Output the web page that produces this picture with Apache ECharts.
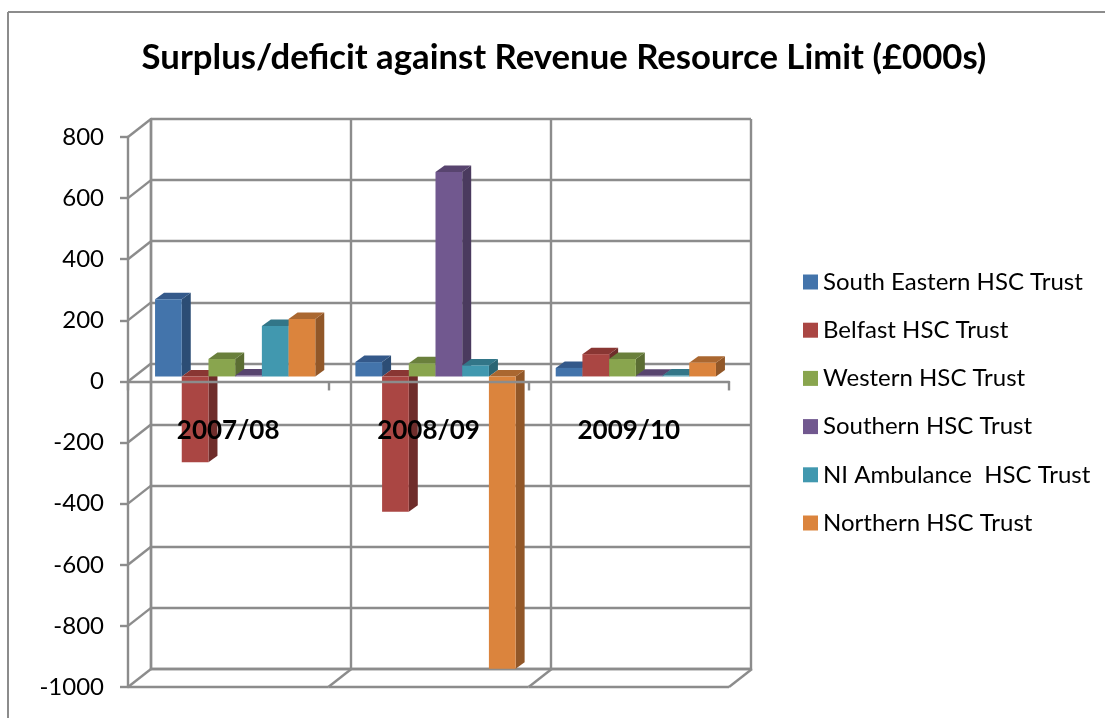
<!DOCTYPE html>
<html>
<head>
<meta charset="utf-8">
<style>
  html, body { margin: 0; padding: 0; background: #fff; overflow: hidden; }
  #chart { width: 1105px; height: 718px; }
</style>
<script src="https://cdn.jsdelivr.net/npm/echarts@6/dist/echarts.min.js"></script>
</head>
<body>
<div id="chart"></div>
<script>
var categories = ['2007/08', '2008/09', '2009/10'];
var seriesNames = ['South Eastern HSC Trust', 'Belfast HSC Trust', 'Western HSC Trust', 'Southern HSC Trust', 'NI Ambulance  HSC Trust', 'Northern HSC Trust'];
var southEastern = [253, 47, 28];
var belfast = [-281, -443, 73];
var western = [57, 43, 57];
var southern = [3, 669, 2];
var niAmbulance = [165, 36, 3];
var northern = [188, -957, 45];
var yTicks = [800, 600, 400, 200, 0, -200, -400, -600, -800, -1000];

var seriesValues = [southEastern, belfast, western, southern, niAmbulance, northern];
var frontColors = ['#4374AB', '#AA4643', '#89A54E', '#71588F', '#4198AF', '#DB843D'];
var topColors = ['#34598A', '#893633', '#6A803C', '#58446F', '#327688', '#AA6730'];
var sideColors = ['#2C4D75', '#6F2D2B', '#5B6D33', '#4A3A5E', '#2B6574', '#915728'];

var FONT = 'Lato';
var GREY = '#8C8C8C';
var LINE_W = 2.4;
// 3d look: how far the back wall sits behind the front plane, and where bars sit in that depth
var WALL_DX = 23, WALL_DY = -18;
var BAR_DX = 7, BAR_DY = -5;
var DEPTH_DX = 9, DEPTH_DY = -6.5;

function renderBar(seriesIndex) {
  return function (params, api) {
    var base = api.coord([api.value(0), 0]);
    var end = api.coord([api.value(0), api.value(1)]);
    var band = api.size([1, 0])[0];
    var w = band * 0.1333;
    var x0 = base[0] + (seriesIndex - 3) * w + BAR_DX;
    var x1 = x0 + w;
    var yTop = Math.min(base[1], end[1]) + BAR_DY;
    var yBot = Math.max(base[1], end[1]) + BAR_DY;
    return {
      type: 'group',
      children: [
        { type: 'polygon', shape: { points: [[x1, yTop], [x1 + DEPTH_DX, yTop + DEPTH_DY], [x1 + DEPTH_DX, yBot + DEPTH_DY], [x1, yBot]] }, style: { fill: sideColors[seriesIndex] } },
        { type: 'polygon', shape: { points: [[x0, yTop], [x0 + DEPTH_DX, yTop + DEPTH_DY], [x1 + DEPTH_DX, yTop + DEPTH_DY], [x1, yTop]] }, style: { fill: topColors[seriesIndex] } },
        { type: 'rect', shape: { x: x0, y: yTop, width: w, height: yBot - yTop }, style: { fill: frontColors[seriesIndex] } }
      ]
    };
  };
}

function diagonal(x, y) {
  return { type: 'line', shape: { x1: x, y1: y, x2: x + WALL_DX, y2: y + WALL_DY }, style: { stroke: GREY, lineWidth: LINE_W } };
}

var barSeries = seriesNames.map(function (name, i) {
  return {
    name: name,
    type: 'custom',
    xAxisIndex: 0,
    yAxisIndex: 0,
    z: 5,
    itemStyle: { color: frontColors[i] },
    encode: { x: 0, y: 1 },
    data: seriesValues[i].map(function (v, c) { return [c, v]; }),
    renderItem: renderBar(i)
  };
});

var option = {
  animation: false,
  backgroundColor: '#fff',
  textStyle: { fontFamily: FONT },
  title: {
    text: 'Surplus/deficit against Revenue Resource Limit (£000s)',
    left: 564,
    top: 40,
    padding: 0,
    textAlign: 'center',
    textStyle: { color: '#000', fontFamily: FONT, fontWeight: 'bold', fontSize: 34.7 }
  },
  legend: {
    orient: 'vertical',
    left: 803,
    top: 268,
    padding: 0,
    itemWidth: 15,
    itemHeight: 15,
    itemGap: 20.2,
    icon: 'rect',
    selectedMode: false,
    data: seriesNames,
    textStyle: { color: '#000', fontFamily: FONT, fontSize: 24, height: 28, lineHeight: 28 }
  },
  grid: [
    { left: 128, top: 137, width: 601, height: 550, outerBoundsMode: 'none' },
    { left: 151, top: 119, width: 600, height: 550, outerBoundsMode: 'none' }
  ],
  xAxis: [
    {
      // zero line; the year labels sit from the grid bottom, hence the negative margin
      type: 'category', gridIndex: 0, data: categories, z: 6,
      axisLine: { onZero: true, lineStyle: { color: GREY, width: LINE_W } },
      axisTick: { show: true, length: 9, lineStyle: { color: GREY, width: LINE_W } },
      axisLabel: { margin: -269, color: '#000', fontFamily: FONT, fontWeight: 'bold', fontSize: 26 }
    },
    {
      // back wall verticals
      type: 'category', gridIndex: 1, data: categories, z: 1,
      axisLine: { onZero: false, lineStyle: { color: GREY, width: LINE_W } },
      axisTick: { show: false }, axisLabel: { show: false },
      splitLine: { show: true, interval: 0, lineStyle: { color: GREY, width: LINE_W } }
    }
  ],
  yAxis: [
    {
      type: 'value', gridIndex: 0, min: -1000, max: 800, interval: 200,
      axisLine: { show: true, lineStyle: { color: GREY, width: LINE_W } },
      axisTick: { show: true, length: 8, lineStyle: { color: GREY, width: LINE_W } },
      axisLabel: { margin: 24, padding: [4, 0, 0, 0], color: '#000', fontFamily: FONT, fontSize: 24, formatter: function (v) { return String(v); } },
      splitLine: { show: false }
    },
    {
      type: 'value', gridIndex: 1, min: -1000, max: 800, interval: 200, z: 1,
      axisLine: { show: true, lineStyle: { color: GREY, width: LINE_W } },
      axisTick: { show: false }, axisLabel: { show: false },
      splitLine: { show: true, lineStyle: { color: GREY, width: LINE_W } }
    }
  ],
  graphic: [
    // sheet border, runs off the page on the right and bottom
    { type: 'line', shape: { x1: 8, y1: 12, x2: 1105, y2: 12 }, style: { stroke: GREY, lineWidth: 2 }, silent: true },
    { type: 'line', shape: { x1: 8, y1: 12, x2: 8, y2: 718 }, style: { stroke: GREY, lineWidth: 2 }, silent: true }
  ],
  series: [
    {
      // left wall diagonals, one per y tick
      type: 'custom', xAxisIndex: 0, yAxisIndex: 0, z: 2, silent: true,
      data: yTicks.map(function (t) { return [0, t]; }),
      encode: { x: 0, y: 1 },
      renderItem: function (params, api) {
        return diagonal(params.coordSys.x, api.coord([0, api.value(1)])[1]);
      }
    },
    {
      // floor: diagonals at the category boundaries and the front edge
      type: 'custom', xAxisIndex: 0, yAxisIndex: 0, z: 2, silent: true,
      data: [[0, -1000], [1, -1000], [2, -1000]],
      encode: { x: 0, y: 1 },
      renderItem: function (params, api) {
        var p = api.coord([api.value(0), -1000]);
        var band = api.size([1, 0])[0];
        return {
          type: 'group',
          children: [
            diagonal(p[0] + band / 2, p[1]),
            { type: 'line', shape: { x1: p[0] - band / 2, y1: p[1], x2: p[0] + band / 2, y2: p[1] }, style: { stroke: GREY, lineWidth: LINE_W } }
          ]
        };
      }
    }
  ].concat(barSeries)
};

var chart = echarts.init(document.getElementById('chart'), null, { renderer: 'canvas' });
chart.setOption(option);
</script>
</body>
</html>
